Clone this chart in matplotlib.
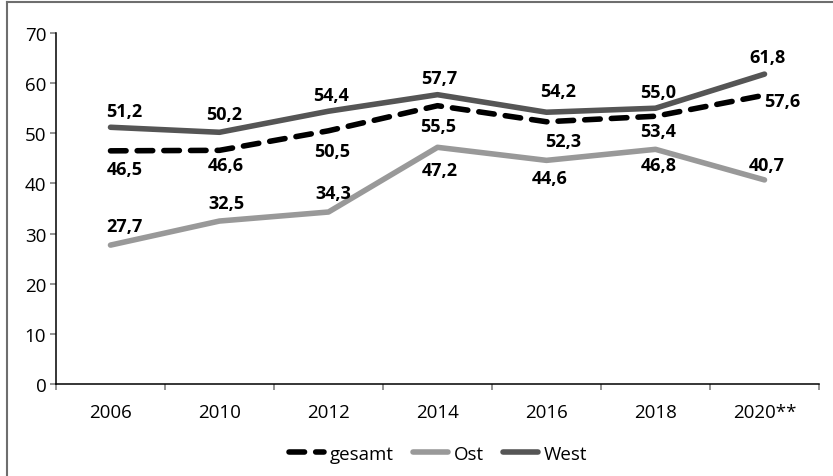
import matplotlib

matplotlib.use("Agg")
import matplotlib.pyplot as plt
from matplotlib.lines import Line2D

plt.rcParams["font.family"] = ["Open Sans", "DejaVu Sans"]

years = ["2006", "2010", "2012", "2014", "2016", "2018", "2020**"]
gesamt = [46.5, 46.6, 50.5, 55.5, 52.3, 53.4, 57.6]
ost = [27.7, 32.5, 34.3, 47.2, 44.6, 46.8, 40.7]
west = [51.2, 50.2, 54.4, 57.7, 54.2, 55.0, 61.8]

# label offsets in pixels (dx, dy), one per point
west_off = [(14, 16), (5, 18), (3, 16), (2, 17), (12, 21), (3, 16), (3, 17)]
gesamt_off = [(14, -18), (6, -15), (4, -20), (1, -20), (17, -19), (3, -15), (18, -6)]
ost_off = [(14, 19), (7, 18), (5, 19), (2, -23), (3, -18), (3, -16), (2, 15)]

c_west = "#555555"
c_ost = "#999999"
c_ges = "#000000"

fig = plt.figure(figsize=(8.33, 4.77), dpi=100)
ax = fig.add_axes([56 / 833, 92 / 477, 763 / 833, 351 / 477])

x = list(range(len(years)))
ax.plot(x, gesamt, color=c_ges, lw=4.0, dashes=(2.8, 2.0), dash_capstyle="round",
        solid_capstyle="round", label="gesamt", zorder=3)
ax.plot(x, ost, color=c_ost, lw=4.0, solid_capstyle="round", label="Ost", zorder=2)
ax.plot(x, west, color=c_west, lw=4.0, solid_capstyle="round", label="West", zorder=2)

for vals, offs in ((west, west_off), (gesamt, gesamt_off), (ost, ost_off)):
    for i, v in enumerate(vals):
        ax.annotate(f"{v:.1f}".replace(".", ","), (i, v), xytext=offs[i],
                    textcoords="offset pixels", ha="center", va="center",
                    fontsize=13, fontweight="bold", color="black")

ax.set_xlim(-0.5, len(years) - 0.5)
ax.set_ylim(0, 70)
ax.set_yticks(range(0, 71, 10))
ax.set_xticks(x)
ax.set_xticklabels(years)
ax.set_xticks([i - 0.5 for i in range(len(years) + 1)], minor=True)
ax.tick_params(axis="x", which="major", length=0, pad=14, labelsize=13.5)
ax.tick_params(axis="x", which="minor", length=4, width=1.2, color="#808080", direction="out")
ax.tick_params(axis="y", length=4, width=1.2, color="#808080", pad=3, labelsize=13.5)

for s in ("top", "right"):
    ax.spines[s].set_visible(False)
for s in ("left", "bottom"):
    ax.spines[s].set_color("black")
    ax.spines[s].set_linewidth(1.1)

fig.legend(loc="center", bbox_to_anchor=(438 / 833, 1 - 455 / 477), ncol=3,
           frameon=False, fontsize=13.5, handlelength=1.9, handletextpad=0.3,
           columnspacing=1.0)

# outer frame (top and left only visible)
fig.add_artist(Line2D([7 / 833, 7 / 833], [0, 1 - 3 / 477], transform=fig.transFigure,
                      color="#6e6e6e", lw=1.5))
fig.add_artist(Line2D([7 / 833, 1], [1 - 3 / 477, 1 - 3 / 477], transform=fig.transFigure,
                      color="#6e6e6e", lw=1.5))

fig.savefig("out.png", dpi=100)
plt.close(fig)
